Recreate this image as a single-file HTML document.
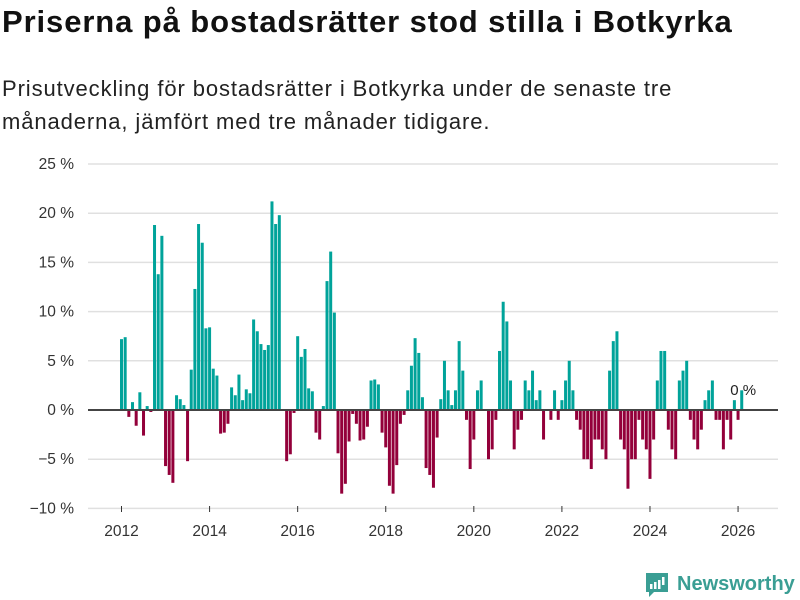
<!DOCTYPE html>
<html><head><meta charset="utf-8">
<style>
body{margin:0;background:#fff;font-family:"Liberation Sans","DejaVu Sans",sans-serif;}
#wrap{position:relative;width:800px;height:600px;overflow:hidden;}
h1{position:absolute;left:2px;top:4px;margin:0;font-size:31px;font-weight:bold;color:#111;letter-spacing:0.9px;white-space:nowrap;}
p.sub{position:absolute;left:2px;top:72px;margin:0;font-size:22px;line-height:33px;color:#222;width:710px;letter-spacing:0.9px;}
</style></head><body>
<div id="wrap">
<h1>Priserna på bostadsrätter stod stilla i Botkyrka</h1>
<p class="sub">Prisutveckling för bostadsrätter i Botkyrka under de senaste tre månaderna, jämfört med tre månader tidigare.</p>
<svg id="chart" width="800" height="600" style="position:absolute;left:0;top:0"></svg>
</div>
<script>
const startYear = 2012;
const values = [
7.2,7.4,-0.7,0.8,-1.6,1.8,-2.6,0.4,-0.2,18.8,13.8,17.7,
-5.7,-6.6,-7.4,1.5,1.1,0.5,-5.2,4.1,12.3,18.9,17.0,8.3,
8.4,4.2,3.5,-2.4,-2.3,-1.4,2.3,1.5,3.6,1.0,2.1,1.7,
9.2,8.0,6.7,6.1,6.6,21.2,18.9,19.8,0,-5.2,-4.5,-0.3,
7.5,5.4,6.2,2.2,1.9,-2.3,-3.0,0.4,13.1,16.1,9.9,-4.4,
-8.5,-7.5,-3.2,-0.4,-1.4,-3.1,-3.0,-1.7,3.0,3.1,2.6,-2.3,
-3.8,-7.7,-8.5,-5.6,-1.4,-0.5,2.0,4.5,7.3,5.8,1.3,-5.9,
-6.6,-7.9,-2.8,1.1,5.0,2.0,0.5,2.0,7.0,4.0,-1.0,-6.0,
-3.0,2.0,3.0,0,-5.0,-4.0,-1.0,6.0,11.0,9.0,3.0,-4.0,
-2.0,-1.0,3.0,2.0,4.0,1.0,2.0,-3.0,0,-1.0,2.0,-1.0,
1.0,3.0,5.0,2.0,-1.0,-2.0,-5.0,-5.0,-6.0,-3.0,-3.0,-4.0,
-5.0,4.0,7.0,8.0,-3.0,-4.0,-8.0,-5.0,-5.0,-1.0,-3.0,-4.0,
-7.0,-3.0,3.0,6.0,6.0,-2.0,-4.0,-5.0,3.0,4.0,5.0,-1.0,
-3.0,-4.0,-2.0,1.0,2.0,3.0,-1.0,-1.0,-4.0,-1.0,-3.0,1.0,
-1.0,2.0];
const yTicks = [-10,-5,0,5,10,15,20,25];
const yTickLabels = ["−10 %","−5 %","0 %","5 %","10 %","15 %","20 %","25 %"];
const xTicks = [2012,2014,2016,2018,2020,2022,2024,2026];
const lastLabel = "0 %";

const NS="http://www.w3.org/2000/svg";
const svg=document.getElementById('chart');
const step=3.67;
function y(v){return 410 - v*9.84;}
function x(monthIndex){return 120 + monthIndex*step;}
function mk(tag,attrs){const e=document.createElementNS(NS,tag);for(const k in attrs)e.setAttribute(k,attrs[k]);svg.appendChild(e);return e;}

yTicks.forEach((t,i)=>{
  if(t!==0){
    const g=mk('line',{x1:88,x2:778,y1:y(t),y2:y(t),stroke:'#e0e0e0','stroke-width':1.5});
    
    
  }
  const tx=mk('text',{x:74,y:y(t)+5,'text-anchor':'end','font-size':15.5,fill:'#333','font-family':'"Liberation Sans","DejaVu Sans",sans-serif'});
  tx.textContent=yTickLabels[i];
  
  
});
xTicks.forEach(yr=>{
  const cx=x((yr-startYear)*12)+1.5;
  const tk=mk('line',{x1:cx,x2:cx,y1:506,y2:512,stroke:'#333','stroke-width':1});
  
  
  const tx=mk('text',{x:cx,y:536,'text-anchor':'middle','font-size':15.5,fill:'#333','font-family':'"Liberation Sans","DejaVu Sans",sans-serif'});
  tx.textContent=yr;
  
  
});
values.forEach((v,i)=>{
  const top=Math.min(y(v),y(0)), h=Math.abs(y(v)-y(0));
  const r=mk('rect',{x:x(i),y:top,width:3,height:h,fill:v>=0?'#00a39a':'#93003a'});
  
  
});
const zl=mk('line',{x1:88,x2:778,y1:y(0),y2:y(0),stroke:'#444','stroke-width':2});


const ll=mk('text',{x:x(values.length-1)+3,y:y(0)-15,'text-anchor':'middle','font-size':15,fill:'#222','font-family':'"Liberation Sans","DejaVu Sans",sans-serif'});
ll.textContent=lastLabel;



const lg=document.createElementNS(NS,'g');


svg.appendChild(lg);
lg.innerHTML='<path d="M646 573 h22 v19 h-14 l-5 5 v-5 h-3 z" fill="#3a9e94"/><rect x="650" y="584" width="2.5" height="5" fill="#fff"/><rect x="654" y="582" width="2.5" height="7" fill="#fff"/><rect x="658" y="580" width="2.5" height="9" fill="#fff"/><rect x="662" y="577" width="2.5" height="8" fill="#fff"/><text x="677" y="590" font-size="20" font-weight="bold" fill="#3a9e94" font-family="Liberation Sans,sans-serif">Newsworthy</text>';
</script>
</body></html>
